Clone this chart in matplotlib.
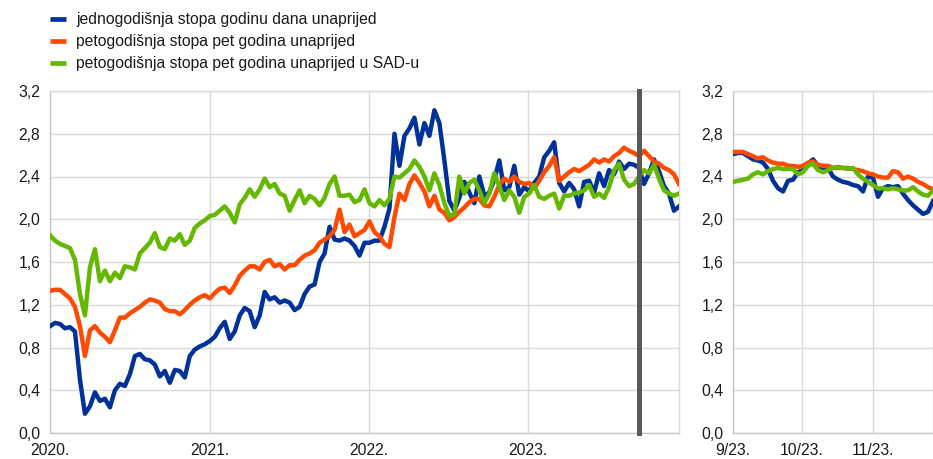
import numpy as np
import pandas as pd
import matplotlib
matplotlib.use("Agg")
import matplotlib.pyplot as plt
import matplotlib.dates as mdates
from matplotlib.lines import Line2D

plt.rcParams['font.family'] = ['Liberation Sans', 'DejaVu Sans']

# ---------------- data ----------------
series_labels = [
    "jednogodišnja stopa godinu dana unaprijed",
    "petogodišnja stopa pet godina unaprijed",
    "petogodišnja stopa pet godina unaprijed u SAD-u",
]
series_colors = ["#003299", "#FF4B00", "#65B800"]

main_start, main_end = "2020-01-01", "2023-12-14"
zoom_start, zoom_end = "2023-09-01", "2023-11-27"
marker_date = "2023-09-14"

main_ticks = ["2020-01-01", "2021-01-01", "2022-01-01", "2023-01-01"]
main_tick_labels = ["2020.", "2021.", "2022.", "2023."]
zoom_ticks = ["2023-09-01", "2023-10-01", "2023-11-01"]
zoom_tick_labels = ["9/23.", "10/23.", "11/23."]
y_ticks = [0.0, 0.4, 0.8, 1.2, 1.6, 2.0, 2.4, 2.8, 3.2]
y_tick_labels = ["0,0", "0,4", "0,8", "1,2", "1,6", "2,0", "2,4", "2,8", "3,2"]

one_year_main = [
    1.00, 1.03, 1.02, 0.98, 0.99, 0.95, 0.50, 0.18, 0.25, 0.38,
    0.30, 0.32, 0.24, 0.40, 0.46, 0.44, 0.55, 0.72, 0.74, 0.69,
    0.68, 0.64, 0.53, 0.58, 0.47, 0.59, 0.58, 0.52, 0.72, 0.78,
    0.81, 0.83, 0.86,
    0.90, 0.98, 1.04, 0.88, 0.95, 1.10, 1.17, 1.14, 0.99, 1.10,
    1.32, 1.25, 1.27, 1.22, 1.24, 1.22, 1.15, 1.18, 1.30, 1.37,
    1.39, 1.60, 1.68, 1.93, 1.81, 1.80, 1.82, 1.80, 1.75, 1.66,
    1.78, 1.78,
    1.80, 1.80, 1.93, 2.10, 2.80, 2.50, 2.78, 2.85, 2.95, 2.70,
    2.90, 2.78, 3.02, 2.90, 2.55, 2.17, 2.08, 2.20, 2.35, 2.25,
    2.15, 2.40, 2.22, 2.25, 2.37, 2.55, 2.27, 2.30, 2.50, 2.23,
    2.30,
    2.26, 2.34, 2.40, 2.58, 2.64, 2.72, 2.34, 2.26, 2.34, 2.28,
    2.12, 2.35, 2.36, 2.25, 2.43, 2.31, 2.46, 2.42, 2.54, 2.47,
    2.52, 2.51, 2.48, 2.33, 2.43, 2.56, 2.45, 2.31, 2.24, 2.08,
    2.12,
]
five_year_main = [
    1.33, 1.34, 1.34, 1.30, 1.26, 1.18, 1.00, 0.72, 0.96, 1.00,
    0.94, 0.90, 0.85, 0.96, 1.08, 1.08, 1.12, 1.15, 1.18, 1.22,
    1.25, 1.24, 1.22, 1.16, 1.14, 1.14, 1.11, 1.15, 1.20, 1.24,
    1.27, 1.29, 1.26,
    1.31, 1.35, 1.36, 1.31, 1.38, 1.47, 1.52, 1.56, 1.56, 1.53,
    1.60, 1.62, 1.56, 1.58, 1.53, 1.57, 1.57, 1.62, 1.66, 1.68,
    1.71, 1.78, 1.81, 1.84, 1.90, 2.09, 1.88, 1.95, 1.84, 1.87,
    1.90, 1.98,
    1.88, 1.84, 1.77, 1.74, 2.02, 2.24, 2.18, 2.33, 2.41, 2.34,
    2.26, 2.12, 2.22, 2.09, 2.06, 1.99, 2.02, 2.07, 2.11, 2.16,
    2.19, 2.19, 2.13, 2.12, 2.21, 2.32, 2.38, 2.35, 2.40, 2.35,
    2.33,
    2.34, 2.29, 2.36, 2.44, 2.50, 2.58, 2.36, 2.40, 2.44, 2.47,
    2.45, 2.48, 2.51, 2.56, 2.53, 2.56, 2.54, 2.59, 2.62, 2.67,
    2.64, 2.62, 2.59, 2.64, 2.59, 2.54, 2.52, 2.48, 2.46, 2.42,
    2.33,
]
us_five_year_main = [
    1.85, 1.80, 1.77, 1.75, 1.73, 1.62, 1.30, 1.10, 1.55, 1.72,
    1.42, 1.52, 1.42, 1.50, 1.45, 1.56, 1.55, 1.53, 1.68, 1.73,
    1.78, 1.87, 1.74, 1.72, 1.82, 1.80, 1.86, 1.76, 1.80, 1.92,
    1.96, 1.99, 2.03,
    2.04, 2.08, 2.12, 2.06, 1.97, 2.14, 2.20, 2.28, 2.21, 2.28,
    2.38, 2.30, 2.33, 2.24, 2.22, 2.08, 2.18, 2.27, 2.15, 2.22,
    2.19, 2.13, 2.20, 2.33, 2.40, 2.22, 2.22, 2.23, 2.16, 2.18,
    2.28, 2.15,
    2.12, 2.18, 2.13, 2.19, 2.40, 2.39, 2.43, 2.47, 2.55, 2.49,
    2.40, 2.27, 2.43, 2.32, 2.15, 2.03, 2.05, 2.40, 2.24, 2.34,
    2.37, 2.27, 2.15, 2.24, 2.43, 2.31, 2.18, 2.27, 2.21, 2.06,
    2.21,
    2.24, 2.32, 2.21, 2.19, 2.22, 2.24, 2.10, 2.22, 2.22, 2.24,
    2.25, 2.27, 2.32, 2.21, 2.24, 2.20, 2.30, 2.46, 2.52, 2.37,
    2.31, 2.33, 2.40, 2.46, 2.43, 2.51, 2.38, 2.27, 2.24, 2.22,
    2.24,
]

one_year_zoom = [
    2.61, 2.62, 2.62, 2.59, 2.56, 2.55, 2.53, 2.47, 2.36, 2.29,
    2.26, 2.36, 2.37, 2.44, 2.46, 2.52, 2.56, 2.50, 2.48, 2.48,
    2.40, 2.37, 2.35, 2.34, 2.32, 2.31, 2.26, 2.40, 2.39, 2.21,
    2.29, 2.31, 2.30, 2.31, 2.24, 2.18, 2.13, 2.09, 2.05, 2.07,
    2.17,
]
five_year_zoom = [
    2.63, 2.63, 2.63, 2.61, 2.59, 2.57, 2.58, 2.55, 2.53, 2.52,
    2.52, 2.50, 2.50, 2.49, 2.50, 2.53, 2.54, 2.51, 2.50, 2.50,
    2.48, 2.48, 2.48, 2.48, 2.47, 2.46, 2.45, 2.43, 2.42, 2.40,
    2.39, 2.39, 2.45, 2.44, 2.38, 2.40, 2.38, 2.35, 2.33, 2.30,
    2.28,
]
us_five_year_zoom = [
    2.35, 2.36, 2.37, 2.38, 2.42, 2.44, 2.42, 2.45, 2.47, 2.48,
    2.47, 2.47, 2.47, 2.42, 2.44, 2.50, 2.52, 2.46, 2.44, 2.46,
    2.48, 2.49, 2.48, 2.47, 2.48, 2.42, 2.38, 2.35, 2.32, 2.29,
    2.29, 2.28, 2.29, 2.28, 2.27, 2.27, 2.30, 2.26, 2.23, 2.22,
    2.27,
]

main_dates = pd.date_range(main_start, main_end, periods=len(one_year_main))
zoom_dates = pd.date_range(zoom_start, zoom_end, periods=len(one_year_zoom))

# ---------------- figure ----------------
W, H = 933, 459
fig = plt.figure(figsize=(W / 100, H / 100), dpi=100)

def px_axes(x0, x1, y0, y1):
    return fig.add_axes([x0 / W, 1 - y1 / H, (x1 - x0) / W, (y1 - y0) / H])

ax1 = px_axes(50, 679, 91, 433)
ax2 = px_axes(733, 933, 91, 433)

grid_c = "#d9d9d9"
FS = 11.3
TXT = "#1a1a1a"

def style(ax, ticks, labels, x0, x1):
    ax.set_ylim(0, 3.2)
    ax.set_xlim(pd.Timestamp(x0), pd.Timestamp(x1))
    ax.set_yticks(y_ticks)
    ax.set_yticklabels(y_tick_labels, fontsize=FS, color=TXT)
    ax.set_xticks([pd.Timestamp(t) for t in ticks])
    ax.set_xticklabels(labels, fontsize=FS, color=TXT)
    ax.tick_params(axis="both", length=0)
    ax.tick_params(axis="y", pad=7)
    ax.tick_params(axis="x", pad=7)
    ax.grid(True, color=grid_c, linewidth=1.0)
    ax.set_axisbelow(True)
    for s in ax.spines.values():
        s.set_color(grid_c)
        s.set_linewidth(1.0)
    ax.spines["left"].set_color("#c8c8c8")
    ax.spines["bottom"].set_color("#c8c8c8")

style(ax1, main_ticks, main_tick_labels, main_start, main_end)
style(ax2, zoom_ticks, zoom_tick_labels, zoom_start, zoom_end)

lw = 3.2
for vals, c in zip([one_year_main, five_year_main, us_five_year_main], series_colors):
    ax1.plot(main_dates, vals, color=c, linewidth=lw, solid_joinstyle="round", zorder=3)
for vals, c in zip([one_year_zoom, five_year_zoom, us_five_year_zoom], series_colors):
    ax2.plot(zoom_dates, vals, color=c, linewidth=lw, solid_joinstyle="round", zorder=3)

ax1.axvline(pd.Timestamp(marker_date), color="#595959", linewidth=3.6, zorder=4, clip_on=False,
            ymin=0, ymax=1)

handles = [Line2D([0], [0], color=c, linewidth=3.4, solid_capstyle="butt") for c in series_colors]
fig.legend(handles, series_labels, loc="upper left", bbox_to_anchor=(50 / W, 1 - 12 / H),
           frameon=False, borderaxespad=0, borderpad=0, handlelength=1.02,
           handletextpad=0.64, labelspacing=0.45, fontsize=FS, labelcolor=TXT)

fig.savefig("out.png", dpi=100)
